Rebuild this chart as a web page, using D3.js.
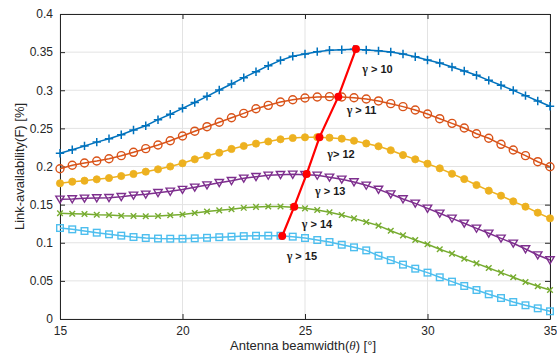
<!DOCTYPE html>
<html>
<head>
<meta charset="utf-8">
<script src="https://cdn.jsdelivr.net/npm/d3@7"></script>
<style>
  html, body { margin: 0; padding: 0; background: #fff; }
  svg { display: block; }
  text { font-family: "Liberation Sans", Arial, Helvetica, sans-serif; }
</style>
</head>
<body>
<svg id="chart" width="557" height="354"></svg>
<script>
// ---------------- data ----------------
const beamwidth = [15, 15.5, 16, 16.5, 17, 17.5, 18, 18.5, 19, 19.5, 20, 20.5, 21, 21.5, 22, 22.5, 23, 23.5, 24, 24.5, 25,
                   25.5, 26, 26.5, 27, 27.5, 28, 28.5, 29, 29.5, 30, 30.5, 31, 31.5, 32, 32.5, 33, 33.5, 34, 34.5, 35];

const gamma10 = [0.2173, 0.2220, 0.2270, 0.2320, 0.2365, 0.2417, 0.2479, 0.2535, 0.2614, 0.2685, 0.2763, 0.2840, 0.2920, 0.3003,
                 0.3082, 0.3165, 0.3243, 0.3322, 0.3392, 0.3445, 0.3475, 0.3506, 0.3524, 0.3532, 0.3537, 0.3528, 0.3517, 0.3502,
                 0.3475, 0.3440, 0.3397, 0.3357, 0.3305, 0.3252, 0.3196, 0.3130, 0.3065, 0.2999, 0.2929, 0.2859, 0.2790];
const gamma11 = [0.1971, 0.2016, 0.2046, 0.2072, 0.2102, 0.2142, 0.2186, 0.2234, 0.2282, 0.2338, 0.2400, 0.2463, 0.2522, 0.2580,
                 0.2640, 0.2697, 0.2758, 0.2802, 0.2846, 0.2876, 0.2898, 0.2911, 0.2916, 0.2911, 0.2902, 0.2885, 0.2860, 0.2824,
                 0.2785, 0.2741, 0.2689, 0.2627, 0.2566, 0.2505, 0.2430, 0.2370, 0.2291, 0.2216, 0.2142, 0.2063, 0.1997];
const gamma12 = [0.1780, 0.1801, 0.1814, 0.1832, 0.1849, 0.1875, 0.1902, 0.1932, 0.1963, 0.2000, 0.2042, 0.2094, 0.2142, 0.2181,
                 0.2230, 0.2269, 0.2300, 0.2328, 0.2357, 0.2374, 0.2383, 0.2384, 0.2378, 0.2365, 0.2338, 0.2302, 0.2265, 0.2213,
                 0.2151, 0.2094, 0.2037, 0.1976, 0.1905, 0.1835, 0.1757, 0.1683, 0.1617, 0.1543, 0.1473, 0.1394, 0.1320];
const gamma13 = [0.1570, 0.1574, 0.1583, 0.1587, 0.1591, 0.1604, 0.1622, 0.1635, 0.1656, 0.1674, 0.1698, 0.1727, 0.1757, 0.1788,
                 0.1814, 0.1845, 0.1867, 0.1884, 0.1893, 0.1897, 0.1893, 0.1884, 0.1858, 0.1832, 0.1797, 0.1753, 0.1700, 0.1639,
                 0.1574, 0.1517, 0.1451, 0.1386, 0.1320, 0.1255, 0.1189, 0.1124, 0.1058, 0.0993, 0.0918, 0.0839, 0.0774];
const gamma14 = [0.1386, 0.1381, 0.1377, 0.1368, 0.1364, 0.1355, 0.1351, 0.1347, 0.1351, 0.1360, 0.1370, 0.1390, 0.1410, 0.1425,
                 0.1439, 0.1458, 0.1470, 0.1476, 0.1476, 0.1467, 0.1451, 0.1430, 0.1399, 0.1364, 0.1320, 0.1272, 0.1225, 0.1158,
                 0.1097, 0.1036, 0.0980, 0.0914, 0.0857, 0.0791, 0.0730, 0.0669, 0.0608, 0.0547, 0.0485, 0.0429, 0.0380];
const gamma15 = [0.1193, 0.1176, 0.1154, 0.1132, 0.1111, 0.1093, 0.1075, 0.1062, 0.1055, 0.1053, 0.1053, 0.1058, 0.1065, 0.1073,
                 0.1080, 0.1087, 0.1092, 0.1093, 0.1092, 0.1080, 0.1062, 0.1036, 0.1010, 0.0974, 0.0940, 0.0900, 0.0830, 0.0772,
                 0.0713, 0.0660, 0.0608, 0.0547, 0.0490, 0.0433, 0.0380, 0.0324, 0.0275, 0.0223, 0.0180, 0.0140, 0.0101];

// optimum (red) points
const optimumX = [24.07, 24.56, 25.07, 25.59, 26.36, 27.08];
const optimumY = [0.1089, 0.1473, 0.1902, 0.2383, 0.2916, 0.3540];

// annotation labels (data coordinates of text start / baseline)
const labelText = ["15", "14", "13", "12", "11", "10"];
const labelSep  = [" > ", " > ", " > ", "> ", " > ", " > "];
const labelX    = [24.25, 24.87, 25.41, 25.91, 26.70, 27.34];
const labelY    = [0.0774, 0.1193, 0.1626, 0.2111, 0.2689, 0.3226];

const xTicks = [15, 20, 25, 30, 35];
const xTickLabels = ["15", "20", "25", "30", "35"];
const yTicks = [0, 0.05, 0.1, 0.15, 0.2, 0.25, 0.3, 0.35, 0.4];
const yTickLabels = ["0", "0.05", "0.1", "0.15", "0.2", "0.25", "0.3", "0.35", "0.4"];

// ---------------- layout ----------------
const W = 557, H = 354;
const m = { left: 60, right: 7, top: 14, bottom: 35 };
const iw = W - m.left - m.right, ih = H - m.top - m.bottom;

const svg = d3.select("#chart");
const g = svg.append("g").attr("transform", `translate(${m.left},${m.top})`);

const x = d3.scaleLinear().domain([15, 35]).range([0, iw]);
const y = d3.scaleLinear().domain([0, 0.4]).range([ih, 0]);

const axisColor = "#262626";

// grid
g.append("g").selectAll("line").data(xTicks).join("line")
  .attr("x1", d => x(d)).attr("x2", d => x(d)).attr("y1", 0).attr("y2", ih)
  .attr("stroke", "#e3e3e3").attr("stroke-width", 1);
g.append("g").selectAll("line").data(yTicks).join("line")
  .attr("x1", 0).attr("x2", iw).attr("y1", d => y(d)).attr("y2", d => y(d))
  .attr("stroke", "#e3e3e3").attr("stroke-width", 1);

// axes
const fmtX = (d, i) => xTickLabels[i];
const fmtY = (d, i) => yTickLabels[i];
const ax = [
  { a: d3.axisBottom(x).tickValues(xTicks).tickFormat(fmtX), t: `translate(0,${ih})` },
  { a: d3.axisTop(x).tickValues(xTicks).tickFormat(""), t: `translate(0,0)` },
  { a: d3.axisLeft(y).tickValues(yTicks).tickFormat(fmtY), t: `translate(0,0)` },
  { a: d3.axisRight(y).tickValues(yTicks).tickFormat(""), t: `translate(${iw},0)` },
];
ax.forEach(o => {
  const sel = g.append("g").attr("transform", o.t)
    .call(o.a.tickSizeInner(-5).tickSizeOuter(0).tickPadding(7));
  sel.select(".domain").attr("stroke", axisColor).attr("stroke-width", 1);
  sel.selectAll(".tick line").attr("stroke", axisColor);
  sel.selectAll(".tick text").attr("fill", axisColor)
    .style("font-size", "12px").style("font-family", "'Liberation Sans', Arial, sans-serif");
});

// series
const series = [
  { v: gamma10, color: "#0072BD", marker: "plus" },
  { v: gamma11, color: "#D95319", marker: "circle" },
  { v: gamma12, color: "#EDB120", marker: "dot" },
  { v: gamma13, color: "#7E2F8E", marker: "tri" },
  { v: gamma14, color: "#77AC30", marker: "cross" },
  { v: gamma15, color: "#4DBEEE", marker: "square" },
];

const line = d3.line().x(d => x(d[0])).y(d => y(d[1]));

series.forEach(s => {
  const pts = beamwidth.map((b, i) => [b, s.v[i]]);
  const sg = g.append("g");
  sg.append("path").attr("d", line(pts)).attr("fill", "none")
    .attr("stroke", s.color).attr("stroke-width", 1.5);
  const mk = sg.selectAll("g.m").data(pts).join("g").attr("class", "m")
    .attr("transform", d => `translate(${x(d[0])},${y(d[1])})`);
  if (s.marker === "plus") {
    mk.append("path").attr("d", "M-4.2,0H4.2M0,-4.2V4.2").attr("stroke", s.color).attr("stroke-width", 1.5);
  } else if (s.marker === "circle") {
    mk.append("circle").attr("r", 4).attr("fill", "none").attr("stroke", s.color).attr("stroke-width", 1.4);
  } else if (s.marker === "dot") {
    mk.append("circle").attr("r", 3.6).attr("fill", s.color).attr("stroke", s.color).attr("stroke-width", 0.8);
  } else if (s.marker === "tri") {
    mk.append("path").attr("d", "M-4.2,-3.2L4.2,-3.2L0,3.9Z").attr("fill", "none")
      .attr("stroke", s.color).attr("stroke-width", 1.4);
  } else if (s.marker === "cross") {
    mk.append("path").attr("d", "M-2.8,-2.8L2.8,2.8M-2.8,2.8L2.8,-2.8").attr("stroke", s.color).attr("stroke-width", 1.4);
  } else if (s.marker === "square") {
    mk.append("rect").attr("x", -3.3).attr("y", -3.3).attr("width", 6.6).attr("height", 6.6)
      .attr("fill", "none").attr("stroke", s.color).attr("stroke-width", 1.4);
  }
});

// optimum red line
const opt = optimumX.map((v, i) => [v, optimumY[i]]);
g.append("path").attr("d", line(opt)).attr("fill", "none").attr("stroke", "#FF0000").attr("stroke-width", 2.2);
g.selectAll("circle.opt").data(opt).join("circle").attr("class", "opt")
  .attr("cx", d => x(d[0])).attr("cy", d => y(d[1])).attr("r", 4).attr("fill", "#FF0000");

// labels
labelText.forEach((t, i) => {
  const tx = g.append("text").attr("x", x(labelX[i])).attr("y", y(labelY[i]))
    .style("font-size", "11px").style("font-weight", "bold").attr("fill", "#1a1a1a");
  tx.append("tspan").text("γ").style("font-family", "'Liberation Serif', 'DejaVu Serif', serif").style("font-size", "12px");
  tx.append("tspan").text(labelSep[i] + t);
});

// axis titles
svg.append("text").attr("x", m.left + iw / 2 - 2).attr("y", 349.5).attr("text-anchor", "middle")
  .style("font-size", "13px").attr("fill", axisColor)
  .call(t => {
    t.append("tspan").text("Antenna beamwidth(");
    t.append("tspan").text("θ").style("font-style", "italic").style("font-family", "'Liberation Serif', 'DejaVu Serif', serif");
    t.append("tspan").text(") [°]");
  });

svg.append("text").attr("transform", `translate(24,${m.top + ih / 2}) rotate(-90)`)
  .attr("text-anchor", "middle").style("font-size", "13px").attr("fill", axisColor)
  .text("Link-availability(F) [%]");
</script>
</body>
</html>
